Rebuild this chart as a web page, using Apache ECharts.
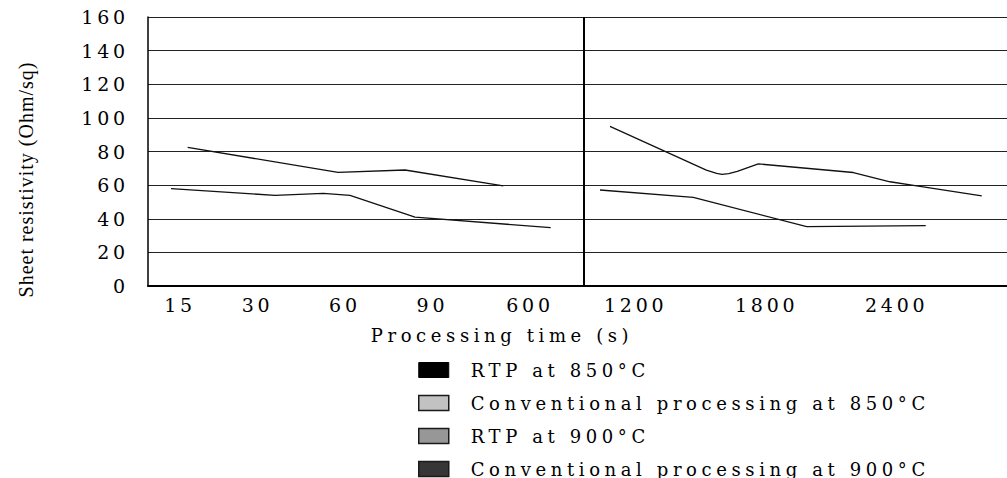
<!DOCTYPE html>
<html>
<head>
<meta charset="utf-8">
<script src="https://cdn.jsdelivr.net/npm/echarts@6/dist/echarts.min.js"></script>
<style>
  html, body { margin: 0; padding: 0; background: #fff; }
  #c { width: 1007px; height: 478px; }
  #c text { letter-spacing: 4.6px; }
  #c text[style*="19px"] { letter-spacing: 3.8px; }
  #c text[style*="Liberation"] { letter-spacing: 1px; }
</style>
</head>
<body>
<div id="c"></div>
<script>
// x positions are on a 0-100 "position along the axis" scale (the axis is not linear in time)
const xTickPos = [3.73, 12.75, 22.93, 33.12, 44.47, 56.78, 72.03, 87.16];
const xTickLabels = ['15', '30', '60', '90', '600', '1200', '1800', '2400'];
const dividerPos = 50.76;

const yTicks = [0, 20, 40, 60, 80, 100, 120, 140, 160];

const seriesNames = ['RTP at 850°C', 'Conventional processing at 850°C', 'RTP at 900°C', 'Conventional processing at 900°C'];
const legendColors = ['#000000', '#c2c2c2', '#979797', '#363636'];

const rtp850X = [4.62, 22.12, 29.92, 41.36];
const rtp850Y = [82.4, 67.6, 69.0, 59.6];

const rtp900X = [2.68, 14.78, 20.41, 23.52, 31.08, 46.88];
const rtp900Y = [57.9, 53.9, 55.1, 53.9, 41.0, 34.7];

const conv850X = [53.78, 65.0, 66.2, 66.82, 67.6, 68.6, 71.05, 82.11, 86.38, 89.49, 97.06];
const conv850Y = [94.9, 68.9, 67.0, 66.4, 66.8, 68.2, 72.6, 67.5, 62.0, 59.6, 53.6];

const conv900X = [52.62, 63.48, 76.68, 90.54];
const conv900Y = [57.1, 52.7, 35.3, 35.9];

const pair = (xs, ys) => xs.map((x, i) => [x, ys[i]]);
const serif = 'DejaVu Serif';

const chart = echarts.init(document.getElementById('c'), null, { renderer: 'svg' });

function lineSeries(name, data, color, extra) {
  return Object.assign({
    name: name,
    type: 'line',
    data: data,
    showSymbol: false,
    symbol: 'none',
    color: color,
    lineStyle: { color: '#111', width: 1.3 },
    itemStyle: { color: color },
    silent: true
  }, extra || {});
}

chart.setOption({
  animation: false,
  grid: { left: 148, right: 0, top: 17, bottom: 192 },
  xAxis: {
    type: 'value',
    min: 0,
    max: 100,
    name: 'Processing time (s)',
    nameLocation: 'middle',
    nameGap: 40,
    nameTextStyle: { fontFamily: serif, fontSize: 18, color: '#000', padding: [0, 151, 0, 0] },
    axisLine: { show: true, lineStyle: { color: '#000', width: 1.8 } },
    axisTick: { show: false },
    splitLine: { show: false },
    axisLabel: {
      customValues: xTickPos,
      formatter: function (v) {
        let best = 0;
        for (let i = 1; i < xTickPos.length; i++) {
          if (Math.abs(xTickPos[i] - v) < Math.abs(xTickPos[best] - v)) best = i;
        }
        return xTickLabels[best];
      },
      fontFamily: serif,
      fontSize: 19,
      color: '#000',
      margin: 9
    }
  },
  yAxis: {
    type: 'value',
    min: 0,
    max: 160,
    interval: 20,
    name: 'Sheet resistivity (Ohm/sq)',
    nameLocation: 'middle',
    nameGap: 112,
    nameTextStyle: { fontFamily: 'Liberation Serif', fontSize: 20, color: '#000', padding: [0, 56, 0, 0] },
    axisLine: { show: true, lineStyle: { color: '#000', width: 1.5 } },
    axisTick: { show: false },
    splitLine: { show: true, lineStyle: { color: '#222', width: 1.2 } },
    axisLabel: {
      fontFamily: serif,
      fontSize: 19,
      color: '#000',
      margin: 19,
      formatter: function (v) { return yTicks.indexOf(v) >= 0 ? String(v) : ''; }
    }
  },
  legend: {
    orient: 'vertical',
    left: 418,
    top: 361,
    height: 200,
    padding: 0,
    icon: 'rect',
    itemWidth: 30,
    itemHeight: 15,
    itemGap: 15,
    selectedMode: false,
    textStyle: { fontFamily: serif, fontSize: 18, color: '#000', padding: [0, 0, 0, 17] },
    data: [
      { name: seriesNames[0], itemStyle: { color: legendColors[0], borderColor: '#000', borderWidth: 1 } },
      { name: seriesNames[1], itemStyle: { color: legendColors[1], borderColor: '#1a1a1a', borderWidth: 1.5 } },
      { name: seriesNames[2], itemStyle: { color: legendColors[2], borderColor: '#1a1a1a', borderWidth: 1.5 } },
      { name: seriesNames[3], itemStyle: { color: legendColors[3], borderColor: '#1a1a1a', borderWidth: 1.5 } }
    ]
  },
  series: [
    lineSeries(seriesNames[0], pair(rtp850X, rtp850Y), legendColors[0], {
      markLine: {
        silent: true,
        symbol: 'none',
        label: { show: false },
        lineStyle: { color: '#000', width: 2, type: 'solid' },
        data: [{ xAxis: dividerPos }]
      }
    }),
    lineSeries(seriesNames[1], pair(conv850X, conv850Y), legendColors[1]),
    lineSeries(seriesNames[2], pair(rtp900X, rtp900Y), legendColors[2]),
    lineSeries(seriesNames[3], pair(conv900X, conv900Y), legendColors[3])
  ]
});
</script>
</body>
</html>
